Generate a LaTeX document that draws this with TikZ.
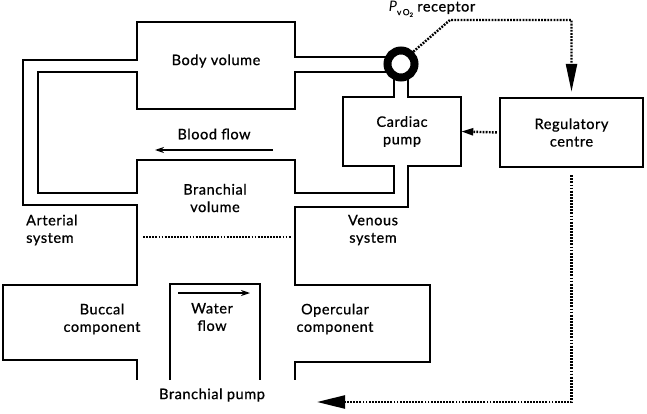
\documentclass[tikz,border=0pt]{standalone}
\usepackage{fontspec}
\setmainfont{Lato}[UprightFeatures={FakeBold=0.8}, LetterSpace=4]
\usetikzlibrary{arrows.meta,positioning}

\begin{document}
\begin{tikzpicture}[x=1pt, y=-1pt,
    font=\fontsize{14.5}{17.5}\selectfont,
    wall/.style={line width=2.4pt, line join=miter},
    lbl/.style={align=center, inner sep=0pt},
    box/.style={draw, line width=2.4pt, align=center, inner sep=0pt,
      minimum width=143pt, minimum height=69pt},
    signal/.style={line width=2.4pt, dash pattern=on 1.8pt off 1.3pt},
    flow/.style={-{Stealth[length=9pt,width=6pt]}, line width=1.2pt}
  ]
    \useasboundingbox (0,0) rectangle (647,414);
    \draw[wall] (401,57) -- (295,57) -- (295,22) -- (137,22) -- (137,60) -- (23,60) -- (23,205)
      -- (137,205) -- (137,285) -- (3,285) -- (3,360) -- (137,360) -- (137,380);
    \draw[wall] (401,72) -- (295,72) -- (295,109) -- (137,109) -- (137,72) -- (38,72) -- (38,193)
      -- (137,193) -- (137,160) -- (295,160) -- (295,193) -- (394,193) -- (394,166)
      -- (343,166) -- (343,97) -- (394,97) -- (394,64);
    \draw[wall] (408,64) -- (408,97) -- (461,97) -- (461,166) -- (408,166) -- (408,207)
      -- (295,207) -- (295,285) -- (430,285) -- (430,362) -- (295,362) -- (295,380);
    \draw[wall] (170,380) -- (170,284) -- (260,284) -- (260,380);
    \node[draw, circle, line width=8pt, fill=white, minimum size=27pt, inner sep=0pt] (rec) at (401,64) {};
    \node[lbl] (reclbl) at (432,9) {{\itshape P}\raisebox{-0.5ex}{\fontsize{8.5}{8}\selectfont v\,O\raisebox{-0.4ex}{\fontsize{6}{6}\selectfont 2}} receptor};
    \node[lbl] (body) at (216,61) {Body volume};
    \node[lbl] (bloodlbl) at (214,134) {Blood flow};
    \node[lbl] (branch) at (215,198) {Branchial\\volume};
    \node[lbl, align=left, anchor=west] (arterial) at (26,230) {Arterial\\system};
    \node[lbl] (venous) at (373,230) {Venous\\system};
    \node[lbl, minimum width=118pt, minimum height=69pt] (cardiac) at (402,131.5) {Cardiac\\pump};
    \node[box] (reg) at (571.5,132.5) {Regulatory\\centre};
    \node[lbl] (buccal) at (102,319) {Buccal\\component};
    \node[lbl] (waterlbl) at (212,317) {Water\\flow};
    \node[lbl] (opercular) at (335,319) {Opercular\\component};
    \node[lbl] (bpump) at (212,395) {Branchial pump};
    \coordinate (blood-a) at (273,150);
    \coordinate (blood-b) at (155,150);
    \coordinate (water-a) at (178,293);
    \coordinate (water-b) at (250,293);
    \coordinate (level-a) at (143,237);
    \coordinate (level-b) at (291,237);
    \coordinate (bend) at (450,20);
    \coordinate (gill-in) at (317,402);
    \draw[flow] (blood-a) -- (blood-b);
    \draw[flow] (water-a) -- (water-b);
    \draw[signal] (level-a) -- (level-b);
    \draw[signal, -{Triangle[length=28pt,width=11pt]}, shorten >=5pt] (rec.45) -- (bend) -| (reg.north);
    \draw[signal, -{Triangle[length=12pt,width=7pt]}, shorten <=2pt] (reg.west) -- (cardiac.east);
    \draw[signal, -{Triangle[length=28pt,width=13pt]}, shorten <=7pt] (reg.south) |- (gill-in);
  \end{tikzpicture}
\end{document}
